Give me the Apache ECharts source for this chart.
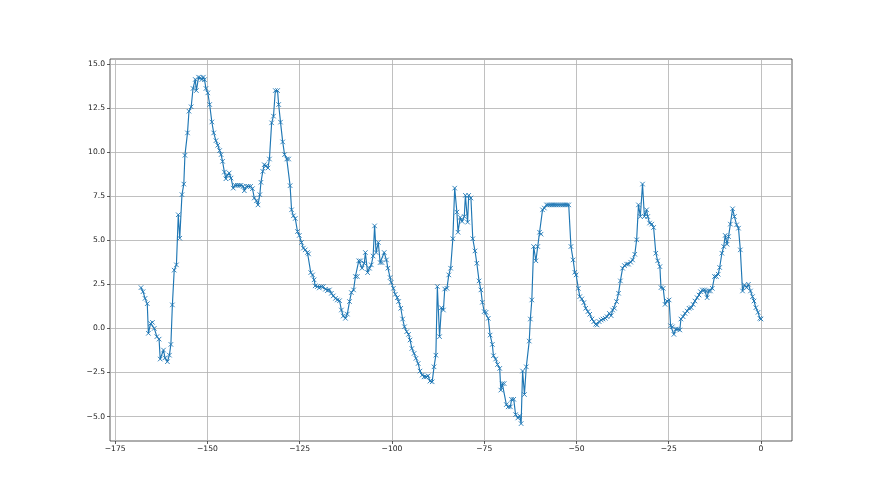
<!DOCTYPE html>
<html>
<head>
<meta charset="utf-8">
<script src="https://cdn.jsdelivr.net/npm/echarts@6/dist/echarts.min.js"></script>
<style>
html,body{margin:0;padding:0;background:#fff;}
#chart{width:880px;height:495px;}
</style>
</head>
<body>
<div id="chart"></div>
<script>
// x positions
const xs = [
-168.0,-167.45,-166.9,-166.3,-166.0,-165.4,-164.9,-164.4,-163.7,-163.1,
-162.8,-161.9,-161.5,-160.85,-160.3,-159.9,-159.5,-159.0,-158.4,-157.9,
-157.5,-156.9,-156.4,-156.1,-155.4,-155.0,-154.4,-153.9,-153.3,-153.0,
-152.4,-151.9,-151.5,-151.1,-150.8,-150.4,-149.9,-149.4,-148.8,-148.3,
-147.7,-147.2,-146.7,-146.3,-145.9,-145.4,-145.0,-144.7,-144.1,-143.6,
-143.0,-142.5,-141.9,-141.4,-140.9,-140.3,-140.0,-139.4,-138.9,-138.3,
-137.8,-137.3,-136.7,-136.3,-135.8,-135.5,-135.0,-134.6,-134.1,-133.6,
-133.2,-132.6,-132.1,-131.6,-131.0,-130.7,-130.2,-129.6,-129.1,-128.5,
-128.0,-127.6,-127.2,-126.7,-126.2,-125.6,-125.1,-124.5,-124.0,-123.5,
-122.9,-122.6,-122.0,-121.5,-121.1,-120.8,-120.2,-119.7,-119.1,-118.6,
-118.0,-117.5,-116.95,-116.4,-115.9,-115.3,-114.8,-114.2,-113.7,-113.2,
-112.6,-112.1,-111.5,-111.0,-110.4,-109.9,-109.4,-109.0,-108.5,-108.1,
-107.5,-107.2,-106.6,-106.1,-105.6,-105.1,-104.7,-104.3,-103.7,-103.2,
-102.7,-102.1,-101.5,-101.1,-100.5,-100.2,-99.6,-99.1,-98.55,-98.2,
-97.6,-97.1,-96.6,-96.0,-95.5,-95.1,-94.6,-94.0,-93.5,-92.9,
-92.4,-91.8,-91.3,-90.8,-90.2,-89.7,-89.1,-88.6,-88.1,-87.7,
-87.1,-86.6,-86.05,-85.7,-85.1,-84.6,-84.1,-83.5,-83.0,-82.4,
-82.1,-81.5,-81.0,-80.4,-80.1,-79.5,-79.2,-78.6,-78.1,-77.5,
-77.0,-76.4,-75.9,-75.5,-75.0,-74.5,-73.9,-73.4,-72.8,-72.5,
-71.9,-71.4,-70.8,-70.5,-70.1,-69.6,-69.0,-68.5,-67.9,-67.6,
-67.0,-66.5,-65.9,-65.4,-65.0,-64.6,-64.1,-63.6,-62.8,-62.5,
-62.1,-61.6,-61.0,-60.5,-60.0,-59.6,-59.2,-58.7,-58.1,-57.6,
-57.1,-56.6,-56.1,-55.6,-55.1,-54.6,-54.1,-53.6,-53.1,-52.6,
-52.1,-51.5,-50.9,-50.45,-50.1,-49.5,-49.1,-48.55,-48.0,-47.5,
-46.9,-46.4,-45.8,-45.3,-44.8,-44.4,-43.85,-43.3,-42.8,-42.2,
-41.7,-41.1,-40.6,-40.2,-39.7,-39.15,-38.6,-38.1,-37.5,-37.0,
-36.4,-35.9,-35.3,-34.8,-34.2,-33.7,-33.2,-32.7,-32.1,-31.6,
-31.0,-30.7,-30.2,-29.6,-29.1,-28.5,-28.0,-27.4,-27.1,-26.5,
-26.0,-25.45,-24.9,-24.5,-24.0,-23.6,-23.1,-22.6,-22.0,-21.7,
-21.1,-20.6,-20.0,-19.5,-18.9,-18.4,-17.9,-17.3,-16.8,-16.4,
-15.9,-15.3,-14.8,-14.6,-14.2,-13.7,-13.2,-12.6,-12.1,-11.6,
-11.2,-10.6,-10.1,-9.7,-9.2,-8.8,-8.3,-7.7,-7.2,-6.6,
-6.1,-5.6,-5.0,-4.5,-3.9,-3.4,-2.85,-2.3,-1.9,-1.4,
-0.8,-0.3,0.0
];
// y values
const ys = [
2.31,2.08,1.70,1.40,-0.28,0.28,0.34,0.0,-0.47,-0.61,
-1.74,-1.23,-1.67,-1.89,-1.52,-0.91,1.33,3.30,3.60,6.44,
5.11,7.58,8.18,9.81,11.08,12.31,12.56,13.60,14.11,13.48,
14.24,14.20,14.11,14.24,14.10,13.60,13.35,12.69,11.70,11.08,
10.64,10.38,10.08,9.85,9.47,8.86,8.48,8.67,8.81,8.52,
7.95,8.11,8.11,8.11,8.11,8.05,7.80,8.05,8.05,8.05,
7.92,7.39,7.23,7.00,7.58,8.28,8.90,9.28,9.22,9.09,
9.60,11.65,12.03,13.48,13.48,12.69,11.69,10.57,9.85,9.60,
9.60,8.09,6.72,6.38,6.23,5.49,5.27,4.87,4.55,4.45,
4.30,4.22,3.16,3.03,2.75,2.41,2.37,2.29,2.37,2.37,
2.22,2.14,2.18,1.99,1.84,1.70,1.61,1.57,1.04,0.70,
0.57,0.81,1.52,2.03,2.18,2.94,2.94,3.83,3.83,3.41,
3.69,4.30,3.16,3.41,3.60,4.10,5.81,4.30,4.87,3.73,
3.73,4.30,3.88,3.41,2.88,2.61,2.27,1.93,1.74,1.52,
1.14,0.53,0.09,-0.19,-0.34,-0.66,-1.14,-1.42,-1.70,-1.99,
-2.42,-2.65,-2.75,-2.75,-2.69,-2.99,-3.03,-2.18,-1.52,2.37,
-0.47,1.17,1.04,2.23,2.27,3.03,3.41,5.08,7.95,6.59,
5.45,6.29,6.06,6.34,7.54,6.02,7.54,7.39,5.08,4.39,
3.69,2.69,2.18,1.48,0.95,0.91,0.57,-0.38,-0.91,-1.55,
-1.74,-2.05,-2.27,-3.50,-3.13,-3.13,-4.32,-4.45,-4.45,-4.02,
-4.02,-4.89,-5.08,-4.96,-5.40,-2.42,-3.75,-2.18,-0.72,0.53,
1.61,4.64,3.83,4.64,5.45,5.34,6.72,6.82,7.00,7.00,
7.00,7.00,7.00,7.00,7.00,7.00,7.00,7.00,7.00,7.00,
7.00,4.64,3.88,3.18,3.03,2.27,1.80,1.67,1.46,1.14,
0.95,0.80,0.53,0.38,0.23,0.19,0.38,0.47,0.53,0.57,
0.66,0.85,0.72,1.04,1.14,1.52,1.99,2.69,3.41,3.56,
3.64,3.64,3.75,3.88,4.20,5.02,7.00,6.34,8.18,6.34,
6.72,6.34,5.97,5.91,5.72,4.26,3.83,3.50,2.31,2.27,
1.36,1.55,1.61,0.15,0.09,-0.34,-0.04,-0.04,-0.09,0.53,
0.66,0.85,0.98,1.14,1.17,1.36,1.55,1.74,1.89,2.08,
2.18,2.18,2.12,1.74,2.12,2.12,2.27,2.94,2.94,3.07,
3.45,4.26,4.64,5.27,4.77,5.20,5.91,6.78,6.34,5.87,
5.68,4.45,2.12,2.46,2.31,2.50,2.12,1.80,1.55,1.17,
0.91,0.57,0.53
];
const xTicks = [-175, -150, -125, -100, -75, -50, -25, 0];
const yTicks = [-5, -2.5, 0, 2.5, 5, 7.5, 10, 12.5, 15];

const points = xs.map((x, i) => [x, ys[i]]);
const minus = s => String(s).replace('-', '\u2212');

const chart = echarts.init(document.getElementById('chart'), null, {renderer: 'canvas'});
const labelFont = {fontFamily: 'DejaVu Sans', fontSize: 7.6, color: '#222'};
chart.setOption({
  animation: false,
  backgroundColor: '#fff',
  grid: {left: 110, right: 88, top: 59, bottom: 54, show: true, borderColor: '#333', borderWidth: 0.8, backgroundColor: 'transparent'},
  xAxis: {
    type: 'value', min: -176.4, max: 8.4,
    axisLine: {show: false, onZero: false},
    axisTick: {show: true, customValues: xTicks, length: 3, lineStyle: {color: '#333', width: 0.8}},
    axisLabel: Object.assign({customValues: xTicks, margin: 4, formatter: v => minus(v)}, labelFont),
    splitLine: {show: true, lineStyle: {color: '#b0b0b0', width: 0.8}}
  },
  yAxis: {
    type: 'value', min: -6.385, max: 15.27,
    axisLine: {show: false, onZero: false},
    axisTick: {show: true, customValues: yTicks, length: 3, lineStyle: {color: '#333', width: 0.8}},
    axisLabel: Object.assign({customValues: yTicks, margin: 5, formatter: v => minus(v.toFixed(1))}, labelFont),
    splitLine: {show: true, lineStyle: {color: '#b0b0b0', width: 0.8}}
  },
  series: [{
    type: 'line',
    data: points,
    showSymbol: true,
    symbol: 'path://M0 0L10 10M10 0L0 10',
    symbolSize: 4.5,
    itemStyle: {color: 'rgba(0,0,0,0)', borderColor: '#1f77b4', borderWidth: 0.9},
    lineStyle: {color: '#1f77b4', width: 1.15},
    emphasis: {disabled: true}
  }]
});
</script>
</body>
</html>
